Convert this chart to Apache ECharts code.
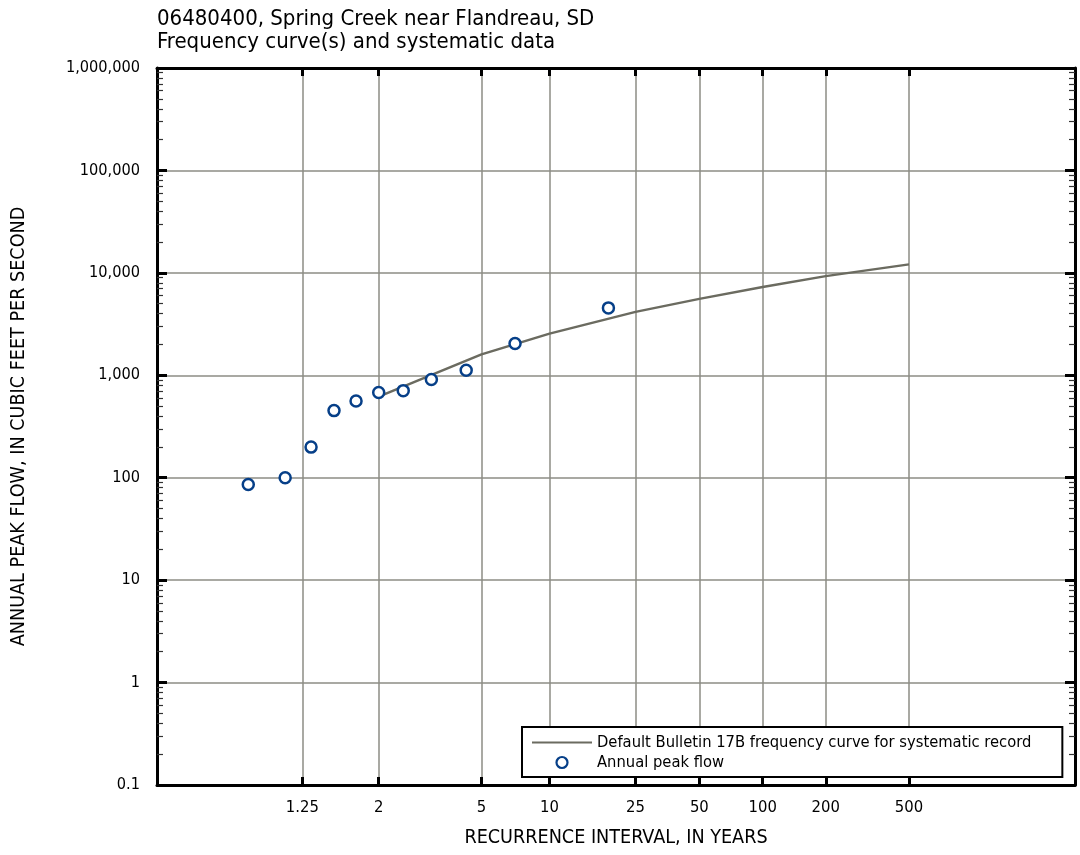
<!DOCTYPE html>
<html>
<head>
<meta charset="utf-8">
<script src="https://cdn.jsdelivr.net/npm/echarts@6/dist/echarts.min.js"></script>
<style>html,body{margin:0;padding:0;background:#fff}#c{width:1080px;height:855px}</style>
</head>
<body>
<div id="c"></div>
<script>
// ---- data ----
const titleLines = ['06480400, Spring Creek near Flandreau, SD', 'Frequency curve(s) and systematic data'];
// frequency curve: recurrence interval (years) and discharge (cfs)
const curveT = [2, 5, 10, 25, 50, 100, 200, 500];
const curveQ = [620, 1600, 2550, 4160, 5570, 7290, 9290, 12100];
// annual peaks: plotted recurrence interval and discharge
const peakT = [1.057, 1.167, 1.302, 1.474, 1.697, 2.0, 2.435, 3.111, 4.308, 7.0, 18.67];
const peakQ = [86, 100, 199, 452, 561, 678, 708, 908, 1119, 2040, 4550];
// x tick marks / labels (recurrence interval)
const xTickT = [1.25, 2, 5, 10, 25, 50, 100, 200, 500];
const xTickLabels = ['1.25', '2', '5', '10', '25', '50', '100', '200', '500'];
// y axis range (log)
const yMin = 0.1, yMax = 1000000;

// Gumbel reduced variate for the probability x axis
function G(T) { return -Math.log(-Math.log(1 - 1 / T)); }
const xMin = -2.078, xMax = 8.044;

const xTickG = xTickT.map(G);
const minorLog = [];
for (let n = Math.log10(yMin); n < Math.log10(yMax); n++) {
  for (let k = 2; k <= 9; k++) minorLog.push(n + Math.log10(k));
}

const FONT = "'Liberation Sans Narrow', 'DejaVu Sans Condensed', 'Arial Narrow', sans-serif";
const GRID_C = '#8c8c84';
const PEAK_C = '#063f88';
const NAME_CURVE = 'Default Bulletin 17B frequency curve for systematic record';
const NAME_PEAK = 'Annual peak flow';

function fmtY(v) {
  if (v >= 1) return Math.round(v).toLocaleString('en-US');
  return String(+v.toPrecision(2));
}
function fmtX(v) {
  for (let i = 0; i < xTickG.length; i++) if (Math.abs(xTickG[i] - v) < 1e-6) return xTickLabels[i];
  return '';
}

const chart = echarts.init(document.getElementById('c'), null, {renderer: 'canvas'});
const option = {
  backgroundColor: '#fff',
  animation: false,
  textStyle: {fontFamily: FONT},
  title: {
    text: titleLines.join('\n'),
    left: 152, top: 8,
    padding: [0, 5, 0, 5],
    textStyle: {fontFamily: FONT, fontSize: 22, fontWeight: 'normal', color: '#000', lineHeight: 23}
  },
  grid: {left: 157, right: 5, top: 68, bottom: 70, containLabel: false},
  legend: {
    orient: 'vertical',
    left: 522, top: 727,
    padding: [7, 31, 6, 9],
    itemGap: 3,
    itemWidth: 60, itemHeight: 11,
    backgroundColor: '#fff',
    borderColor: '#000', borderWidth: 2,
    textStyle: {fontFamily: FONT, fontSize: 16.4, color: '#000', lineHeight: 17},
    data: [
      {name: NAME_CURVE, itemStyle: {opacity: 0}},
      {name: NAME_PEAK, itemStyle: {color: '#ffffff', borderColor: PEAK_C, borderWidth: 2.2}}
    ]
  },
  xAxis: [
    {
      type: 'value', position: 'bottom', min: xMin, max: xMax,
      name: 'RECURRENCE INTERVAL, IN YEARS', nameLocation: 'middle', nameGap: 43,
      nameTextStyle: {fontFamily: FONT, fontSize: 19.6, color: '#000'},
      axisLine: {show: true, onZero: false, lineStyle: {color: '#000', width: 3}},
      axisTick: {show: true, inside: true, length: 8, lineStyle: {color: '#000', width: 3}, customValues: xTickG},
      axisLabel: {show: true, margin: 14, fontFamily: FONT, fontSize: 16.5, color: '#000', customValues: xTickG, formatter: fmtX},
      splitLine: {show: true, lineStyle: {color: GRID_C, width: 1.5}}
    },
    {
      type: 'value', position: 'top', min: xMin, max: xMax,
      axisLine: {show: true, onZero: false, lineStyle: {color: '#000', width: 3}},
      axisTick: {show: true, inside: true, length: 8, lineStyle: {color: '#000', width: 3}, customValues: xTickG},
      axisLabel: {show: false},
      splitLine: {show: false}
    }
  ],
  yAxis: [
    {
      type: 'log', logBase: 10, position: 'left', min: yMin, max: yMax, interval: 1,
      name: 'ANNUAL PEAK FLOW, IN CUBIC FEET PER SECOND', nameLocation: 'middle', nameGap: 128, nameRotate: 90,
      nameTextStyle: {fontFamily: FONT, fontSize: 19.6, color: '#000'},
      axisLine: {show: true, onZero: false, lineStyle: {color: '#000', width: 3}},
      axisTick: {show: true, inside: true, length: 10, lineStyle: {color: '#000', width: 3}},
      axisLabel: {show: true, margin: 17, fontFamily: FONT, fontSize: 16.2, color: '#000', formatter: fmtY},
      splitLine: {show: true, lineStyle: {color: GRID_C, width: 1.5}}
    },
    {
      type: 'log', logBase: 10, position: 'right', min: yMin, max: yMax, interval: 1,
      axisLine: {show: true, onZero: false, lineStyle: {color: '#000', width: 3}},
      axisTick: {show: true, inside: true, length: 10, lineStyle: {color: '#000', width: 3}},
      axisLabel: {show: false}, splitLine: {show: false}
    },
    {
      type: 'value', position: 'left', min: Math.log10(yMin), max: Math.log10(yMax),
      axisLine: {show: false, onZero: false},
      axisTick: {show: true, inside: true, length: 6, lineStyle: {color: '#333', width: 1.2}, customValues: minorLog},
      axisLabel: {show: false}, splitLine: {show: false}
    },
    {
      type: 'value', position: 'right', min: Math.log10(yMin), max: Math.log10(yMax),
      axisLine: {show: false, onZero: false},
      axisTick: {show: true, inside: true, length: 6, lineStyle: {color: '#333', width: 1.2}, customValues: minorLog},
      axisLabel: {show: false}, splitLine: {show: false}
    }
  ],
  series: [
    {
      name: NAME_CURVE,
      type: 'line', xAxisIndex: 0, yAxisIndex: 0,
      data: curveT.map((t, i) => [G(t), curveQ[i]]),
      symbol: 'none', smooth: false,
      lineStyle: {color: '#6b6b60', width: 2.5},
      itemStyle: {color: '#6b6b60'},
      z: 3
    },
    {
      name: NAME_PEAK,
      type: 'scatter', xAxisIndex: 0, yAxisIndex: 0,
      data: peakT.map((t, i) => [G(t), peakQ[i]]),
      symbol: 'circle', symbolSize: 11,
      itemStyle: {color: '#ffffff', borderColor: PEAK_C, borderWidth: 2.5, opacity: 1},
      z: 4
    }
  ]
};
chart.setOption(option);
</script>
</body>
</html>
